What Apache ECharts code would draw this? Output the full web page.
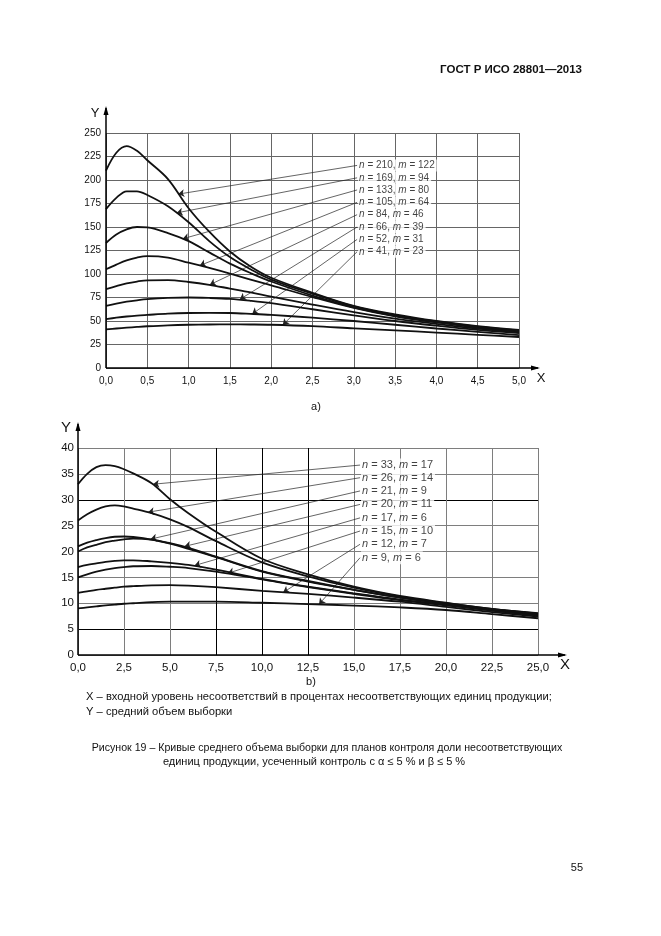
<!DOCTYPE html>
<html><head><meta charset="utf-8">
<script src="https://cdn.jsdelivr.net/npm/echarts@6/dist/echarts.min.js"></script>
<style>html,body{margin:0;padding:0;background:#fff}#c{width:661px;height:936px}</style>
</head><body><div id="c"></div>
<script>
// ---------- DATA: chart a) ----------
const topX = [0, 0.125, 0.25, 0.375, 0.5, 0.75, 1, 1.25, 1.5, 1.75, 2, 2.5, 3, 3.5, 4, 4.5, 5];
const topN = [210, 169, 133, 105, 84, 66, 52, 41];
const topM = [122, 94, 80, 64, 46, 39, 31, 23];
const topC1 = [210, 229, 236, 231, 221, 201, 170, 145, 124, 108, 96, 80, 66, 57, 50, 44.5, 40.5];
const topC2 = [169, 181, 188, 188, 184, 172, 155, 135, 118, 105, 94, 79, 65.5, 56, 49.5, 44, 40];
const topC3 = [133, 142, 147.5, 150, 149.5, 143.5, 135, 123, 111, 101, 92, 77, 64.5, 55.5, 49, 43.5, 39.5];
const topC4 = [105, 110, 114.5, 117.5, 119, 117.5, 112, 106.5, 100.5, 94, 88, 75.5, 64, 55, 48.5, 43, 39];
const topC5 = [84, 87, 90, 92, 93.3, 93.5, 91.5, 88.5, 84.5, 80.5, 76, 67.5, 59.5, 52.5, 47, 42, 38];
const topC6 = [66, 68.5, 70.5, 72, 73.2, 74.5, 75, 74.5, 73.5, 71.5, 69, 62.5, 56, 50, 45, 40.5, 37];
const topC7 = [52, 53.5, 54.8, 55.8, 56.5, 57.8, 58.5, 58.7, 58.5, 57.6, 56.5, 53.5, 50, 46, 42, 38.5, 35];
const topC8 = [41, 42, 42.9, 43.7, 44.4, 45.4, 46, 46.3, 46.4, 46.3, 46, 44.5, 42.2, 40, 37.7, 35.3, 33];
const topArrowX = [0.875, 0.855, 0.93, 1.136, 1.257, 1.62, 1.77, 2.14];
const topArrowY = [185, 165, 137.5, 109, 88.6, 73, 57.4, 45.8];
const topLabelX = 3.04;
const topLabelY = [215.5, 202.3, 189.4, 176.2, 163.1, 150, 136.8, 123.7];

// ---------- DATA: chart b) ----------
const botX = [0, 0.5, 1, 1.5, 2, 2.5, 3, 4, 5, 6, 7.5, 10, 12.5, 15, 17.5, 20, 22.5, 25];
const botN = [33, 26, 21, 20, 17, 15, 12, 9];
const botM = [17, 14, 9, 11, 6, 10, 7, 6];
const botC1 = [33, 35, 36.3, 36.7, 36.5, 35.9, 35.1, 33.2, 30.1, 27.4, 23.8, 18.6, 15.6, 13.2, 11.4, 10.1, 8.9, 8.1];
const botC2 = [26, 27.2, 28.1, 28.7, 28.9, 28.7, 28.3, 27.4, 26.2, 24.7, 22, 17.9, 15.2, 13, 11.3, 10, 8.9, 8];
const botC3 = [21, 21.7, 22.2, 22.6, 22.85, 22.9, 22.8, 22.3, 21.5, 20.5, 18.9, 16.1, 14.2, 12.6, 11.1, 9.9, 8.8, 7.9];
const botC4 = [20, 20.8, 21.3, 21.8, 22.1, 22.35, 22.5, 22.3, 21.6, 20.7, 19, 16.2, 14.3, 12.6, 11.1, 9.9, 8.8, 7.9];
const botC5 = [17, 17.4, 17.7, 18, 18.2, 18.3, 18.3, 18.1, 17.8, 17.4, 16.5, 14.7, 13.2, 11.9, 10.7, 9.7, 8.6, 7.7];
const botC6 = [15, 15.6, 16.1, 16.5, 16.8, 17, 17.15, 17.2, 17.05, 16.8, 16.1, 14.6, 13.1, 11.8, 10.6, 9.6, 8.6, 7.6];
const botC7 = [12, 12.3, 12.6, 12.8, 13, 13.2, 13.3, 13.45, 13.5, 13.4, 13.1, 12.4, 11.8, 11.1, 10.3, 9.3, 8.3, 7.4];
const botC8 = [9, 9.2, 9.4, 9.6, 9.75, 9.9, 10, 10.2, 10.3, 10.3, 10.3, 10.1, 9.85, 9.55, 9.2, 8.7, 7.9, 7.1];
const botArrowX = [4.08, 3.81, 3.95, 5.8, 6.34, 8.15, 11.15, 13.1];
const botArrowY = [33.0, 27.6, 22.4, 21.0, 17.3, 15.8, 12.1, 9.8];
const botLabelX = 15.33;
const botLabelY = [36.7, 34.26, 31.7, 29.1, 26.5, 23.96, 21.4, 18.8];

// ---------- TEXTS ----------
const headerText = 'ГОСТ Р ИСО 28801—2013';
const legendX = 'X – входной уровень несоответствий в процентах несоответствующих единиц продукции;';
const legendY = 'Y – средний объем выборки';
const caption1 = 'Рисунок 19 – Кривые среднего объема выборки для планов контроля доли несоответствующих';
const caption2 = 'единиц продукции, усеченный контроль с α ≤ 5 % и β ≤ 5 %';
const pageNo = '55';

// ---------- CHART ----------
const FONT = '"Liberation Sans", Arial, sans-serif';
const chart = echarts.init(document.getElementById('c'), null, {renderer: 'canvas', width: 661, height: 936});
const fmtDec = v => v.toFixed(1).replace('.', ',');

const topCurves = [topC1, topC2, topC3, topC4, topC5, topC6, topC7, topC8];
const botCurves = [botC1, botC2, botC3, botC4, botC5, botC6, botC7, botC8];

function curveSeries(xs, curves, gi) {
  return curves.map(ys => ({
    type: 'line', xAxisIndex: gi, yAxisIndex: gi, smooth: 0.35, symbol: 'none', silent: true,
    lineStyle: {color: '#111', width: 1.8}, z: 4,
    data: xs.map((x, i) => [x, ys[i]])
  }));
}
function leaderSeries(gi, lx, ly, ax, ay) {
  return {
    type: 'lines', coordinateSystem: 'cartesian2d', xAxisIndex: gi, yAxisIndex: gi, silent: true,
    symbol: ['none', 'arrow'], symbolSize: [0, 6], z: 3,
    lineStyle: {color: '#222', width: 0.7, opacity: 1},
    data: ax.map((a, k) => ({coords: [[lx, ly[k]], [a, ay[k]]]}))
  };
}
function labelSeries(gi, lx, ly, ns, ms, fs) {
  return {
    type: 'scatter', xAxisIndex: gi, yAxisIndex: gi, symbolSize: 0, silent: true, z: 6,
    data: ly.map((y, k) => ({value: [lx, y], label: {formatter: '{i|n} = ' + ns[k] + ', {i|m} = ' + ms[k]}})),
    label: {show: true, position: 'right', distance: 1, fontSize: fs, color: '#111', fontFamily: FONT,
      backgroundColor: '#fff', padding: [1, 2, 1, 1],
      rich: {i: {fontStyle: 'italic', fontSize: fs, color: '#111', fontFamily: FONT}}}
  };
}

const g = '#7e7e7e', k = '#000';
const option = {
  animation: false,
  backgroundColor: '#fff',
  grid: [
    {left: 106, top: 133, width: 413, height: 235, outerBoundsMode: 'none'},
    {left: 78, top: 448, width: 460, height: 207, outerBoundsMode: 'none'}
  ],
  xAxis: [
    {gridIndex: 0, type: 'value', min: 0, max: 5, interval: 0.5,
      axisLine: {show: false}, axisTick: {show: false},
      axisLabel: {formatter: fmtDec, fontSize: 10, color: '#111', margin: 8, fontFamily: FONT},
      splitLine: {show: true, lineStyle: {color: '#666', width: 1}}},
    {gridIndex: 1, type: 'value', min: 0, max: 25, interval: 2.5,
      axisLine: {show: false}, axisTick: {show: false},
      axisLabel: {formatter: fmtDec, fontSize: 11.5, color: '#111', margin: 7, fontFamily: FONT},
      splitLine: {show: true, lineStyle: {color: [g, g, g, k, k, k, g, g, g, g, g], width: 1}}}
  ],
  yAxis: [
    {gridIndex: 0, type: 'value', min: 0, max: 250, interval: 25,
      axisLine: {show: false}, axisTick: {show: false},
      axisLabel: {fontSize: 10, color: '#111', margin: 5, fontFamily: FONT},
      splitLine: {show: true, lineStyle: {color: '#666', width: 1}}},
    {gridIndex: 1, type: 'value', min: 0, max: 40, interval: 5,
      axisLine: {show: false}, axisTick: {show: false},
      axisLabel: {fontSize: 11.5, color: '#111', margin: 4, fontFamily: FONT},
      splitLine: {show: true, lineStyle: {color: [g, k, g, g, g, g, k, g, g], width: 1}}}
  ],
  series: [].concat(
    curveSeries(topX, topCurves, 0),
    curveSeries(botX, botCurves, 1),
    [leaderSeries(0, topLabelX, topLabelY, topArrowX, topArrowY),
     leaderSeries(1, botLabelX, botLabelY, botArrowX, botArrowY),
     labelSeries(0, topLabelX, topLabelY, topN, topM, 10),
     labelSeries(1, botLabelX, botLabelY, botN, botM, 11)]
  )
};
chart.setOption(option);

// axes with arrows, extended beyond the plot, computed from the scales
const t0 = chart.convertToPixel({gridIndex: 0}, [0, 0]);
const t1 = chart.convertToPixel({gridIndex: 0}, [5, 250]);
const b0 = chart.convertToPixel({gridIndex: 1}, [0, 0]);
const b1 = chart.convertToPixel({gridIndex: 1}, [25, 40]);

function axisGraphics(o, e, extX, extY, lw) {
  const xt = e[0] + extX, yt = e[1] - extY;
  return [
    {type: 'line', z: 10, shape: {x1: o[0], y1: o[1], x2: xt, y2: o[1]}, style: {stroke: '#000', lineWidth: lw}},
    {type: 'line', z: 10, shape: {x1: o[0], y1: o[1], x2: o[0], y2: yt}, style: {stroke: '#000', lineWidth: lw}},
    {type: 'polygon', z: 10, shape: {points: [[xt + 2, o[1]], [xt - 7, o[1] - 2.5], [xt - 7, o[1] + 2.5]]}, style: {fill: '#000'}},
    {type: 'polygon', z: 10, shape: {points: [[o[0], yt - 2], [o[0] - 2.5, yt + 7], [o[0] + 2.5, yt + 7]]}, style: {fill: '#000'}}
  ];
}
function txt(x, y, s, fs, opts) {
  return Object.assign({type: 'text', z: 10, x: x, y: y,
    style: Object.assign({text: s, fontSize: fs, fontFamily: FONT, fill: '#111', textVerticalAlign: 'middle', verticalAlign: 'middle'}, opts || {})});
}

chart.setOption({
  graphic: [].concat(
    axisGraphics(t0, t1, 19, 25, 1.5),
    axisGraphics(b0, b1, 27, 24, 1.5),
    [
      txt(582, 70, headerText, 11.5, {fontWeight: 'bold', textAlign: 'right', align: 'right'}),
      txt(t0[0] - 11, t1[1] - 20, 'Y', 13, {textAlign: 'center', align: 'center'}),
      txt(t1[0] + 22, t0[1] + 10, 'X', 13, {textAlign: 'center', align: 'center'}),
      txt(316, 407, 'a)', 11, {textAlign: 'center', align: 'center'}),
      txt(b0[0] - 12, b1[1] - 20, 'Y', 15, {textAlign: 'center', align: 'center'}),
      txt(b1[0] + 27, b0[1] + 10, 'X', 15, {textAlign: 'center', align: 'center'}),
      txt(311, 682, 'b)', 11, {textAlign: 'center', align: 'center'}),
      txt(86, 697, legendX, 11.2),
      txt(86, 712, legendY, 11.2),
      txt(327, 748, caption1, 10.6, {textAlign: 'center', align: 'center'}),
      txt(314, 762, caption2, 11, {textAlign: 'center', align: 'center'}),
      txt(583, 868, pageNo, 11, {textAlign: 'right', align: 'right'})
    ]
  )
});
</script>
</body></html>
